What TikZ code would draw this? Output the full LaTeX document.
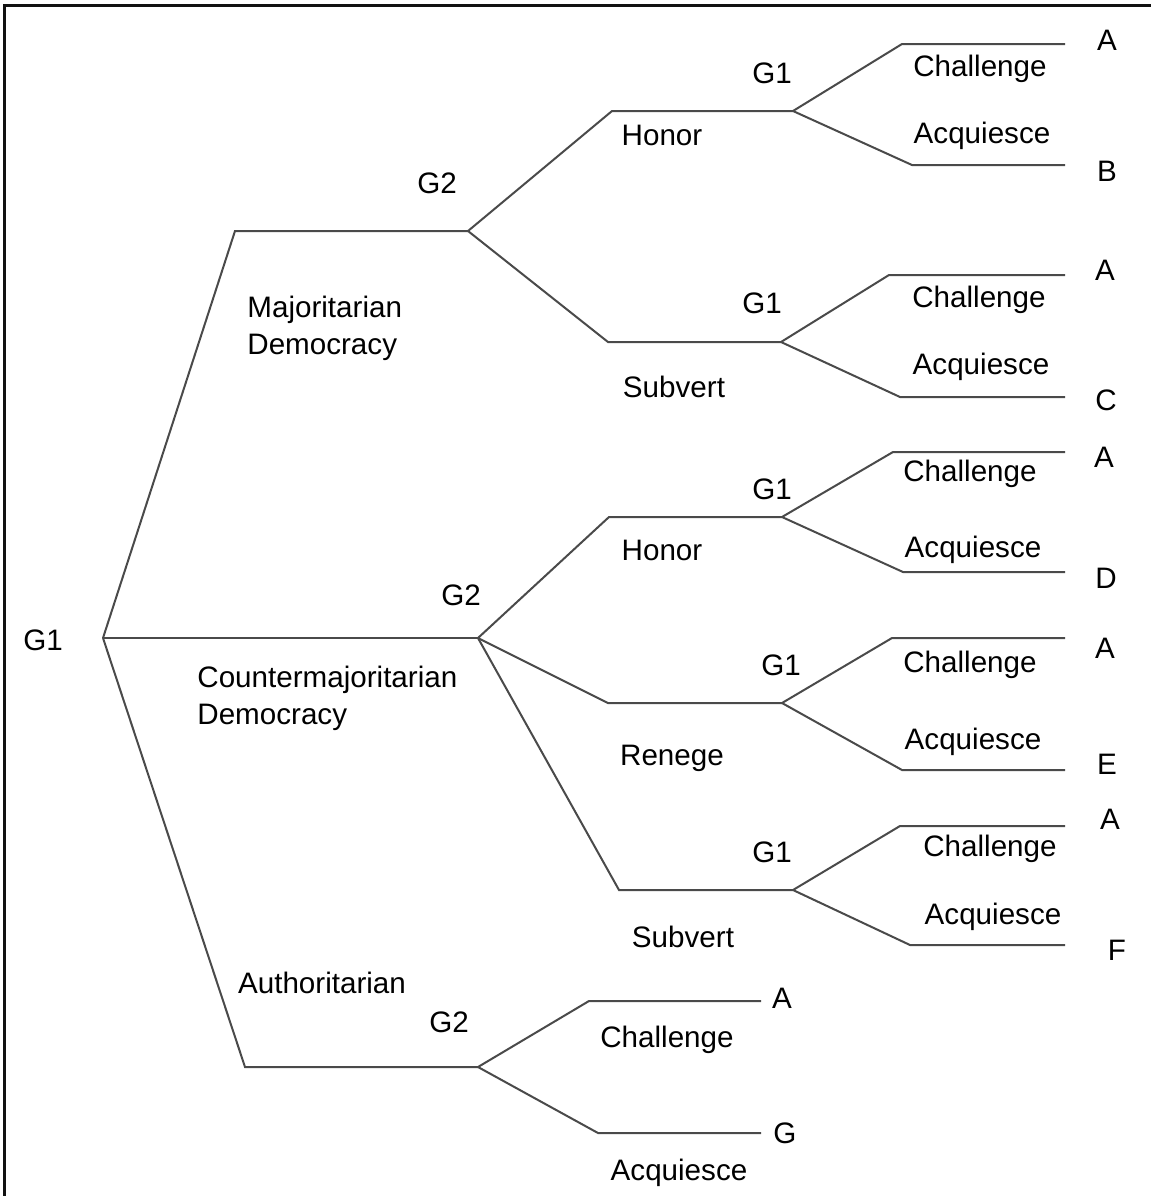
\documentclass[tikz,border=0pt]{standalone}
\usepackage{fontspec}
\setmainfont{Liberation Sans}
\usepackage{tikz}
\usetikzlibrary{positioning}
\definecolor{branchgray}{HTML}{4A4A4A}
\definecolor{framegray}{HTML}{111111}

\begin{document}
\begin{tikzpicture}[x=0.5pt,y=-0.5pt,
    branch/.style={branchgray, line width=1pt},
    lbl/.style={inner sep=0pt, font=\fontsize{14.8}{18.2}\selectfont}]
    \useasboundingbox (0,0) rectangle (1151,1196);
    \draw[framegray, line width=1.5pt] (4,1196) -- (4,5) -- (1151,5);

    \coordinate (root) at (103,638);
    \coordinate (majC) at (235,231);
    \coordinate (majG2) at (468,231);
    \coordinate (cntG2) at (478,638);
    \coordinate (autC) at (245,1067);
    \coordinate (autG2) at (478,1067);

    \coordinate (mhC) at (612,111);  \coordinate (mhG1) at (793,111);
    \coordinate (msC) at (608,342);  \coordinate (msG1) at (781,342);
    \coordinate (chC) at (609,517);  \coordinate (chG1) at (782,517);
    \coordinate (crC) at (608,703);  \coordinate (crG1) at (782,703);
    \coordinate (csC) at (619,890);  \coordinate (csG1) at (793,890);

    \draw[branch] (root) -- (majC) -- (majG2);
    \draw[branch] (root) -- (cntG2);
    \draw[branch] (root) -- (autC) -- (autG2);

    \draw[branch] (majG2) -- (mhC) -- (mhG1);
    \draw[branch] (majG2) -- (msC) -- (msG1);
    \draw[branch] (cntG2) -- (chC) -- (chG1);
    \draw[branch] (cntG2) -- (crC) -- (crG1);
    \draw[branch] (cntG2) -- (csC) -- (csG1);

    \foreach \g/\ux/\uy/\dx/\dy in {mhG1/902/44/912/165, msG1/889/275/900/397,
        chG1/893/452/903/572, crG1/892/638/902/770, csG1/900/826/910/945} {
        \coordinate (\g-up) at (\ux,\uy);
        \coordinate (\g-upend) at (1065,\uy);
        \coordinate (\g-dn) at (\dx,\dy);
        \coordinate (\g-dnend) at (1065,\dy);
        \draw[branch] (\g) -- (\g-up) -- (\g-upend);
        \draw[branch] (\g) -- (\g-dn) -- (\g-dnend);
    }

    \coordinate (autUp) at (589,1001);   \coordinate (autUpEnd) at (761,1001);
    \coordinate (autDn) at (598,1133);   \coordinate (autDnEnd) at (761,1133);
    \draw[branch] (autG2) -- (autUp) -- (autUpEnd);
    \draw[branch] (autG2) -- (autDn) -- (autDnEnd);

    \node[lbl] (rootLbl) at (43,640) {G1};
    \node[lbl, anchor=north west, align=left] (majLbl) at (247,296) {Majoritarian\\Democracy};
    \node[lbl, anchor=north west, align=left] (cntLbl) at (197,666) {Countermajoritarian\\Democracy};
    \node[lbl] (autLbl) at (322,983) {Authoritarian};

    \node[lbl] (majG2Lbl) at (437,183) {G2};
    \node[lbl] (cntG2Lbl) at (461,595) {G2};
    \node[lbl] (autG2Lbl) at (449,1022) {G2};

    \node[lbl] (mhLbl) at (662,135) {Honor};
    \node[lbl] (msLbl) at (674,387) {Subvert};
    \node[lbl] (chLbl) at (662,550) {Honor};
    \node[lbl] (crLbl) at (672,758) {Renege};
    \node[lbl] (csLbl) at (683,937) {Subvert};

    \node[lbl] (mhG1Lbl) at (772,73) {G1};
    \node[lbl] (msG1Lbl) at (762,303) {G1};
    \node[lbl] (chG1Lbl) at (772,489) {G1};
    \node[lbl] (crG1Lbl) at (781,665) {G1};
    \node[lbl] (csG1Lbl) at (772,852) {G1};

    \node[lbl] (mhCh) at (980,69) {Challenge};
    \node[lbl] (mhAq) at (982,136) {Acquiesce};
    \node[lbl] (msCh) at (979,300) {Challenge};
    \node[lbl] (msAq) at (981,367) {Acquiesce};
    \node[lbl] (chCh) at (970,474) {Challenge};
    \node[lbl] (chAq) at (973,550) {Acquiesce};
    \node[lbl] (crCh) at (970,665) {Challenge};
    \node[lbl] (crAq) at (973,742) {Acquiesce};
    \node[lbl] (csCh) at (990,849) {Challenge};
    \node[lbl] (csAq) at (993,917) {Acquiesce};
    \node[lbl] (autCh) at (667,1040) {Challenge};
    \node[lbl] (autAq) at (679,1173) {Acquiesce};

    \node[lbl] (outA1) at (1107,40) {A};
    \node[lbl] (outB) at (1107,171) {B};
    \node[lbl] (outA2) at (1105,270) {A};
    \node[lbl] (outC) at (1106,400) {C};
    \node[lbl] (outA3) at (1104,457) {A};
    \node[lbl] (outD) at (1106,578) {D};
    \node[lbl] (outA4) at (1105,648) {A};
    \node[lbl] (outE) at (1107,764) {E};
    \node[lbl] (outA5) at (1110,819) {A};
    \node[lbl] (outF) at (1117,950) {F};
    \node[lbl] (outA6) at (782,998) {A};
    \node[lbl] (outG) at (785,1133) {G};
\end{tikzpicture}
\end{document}
